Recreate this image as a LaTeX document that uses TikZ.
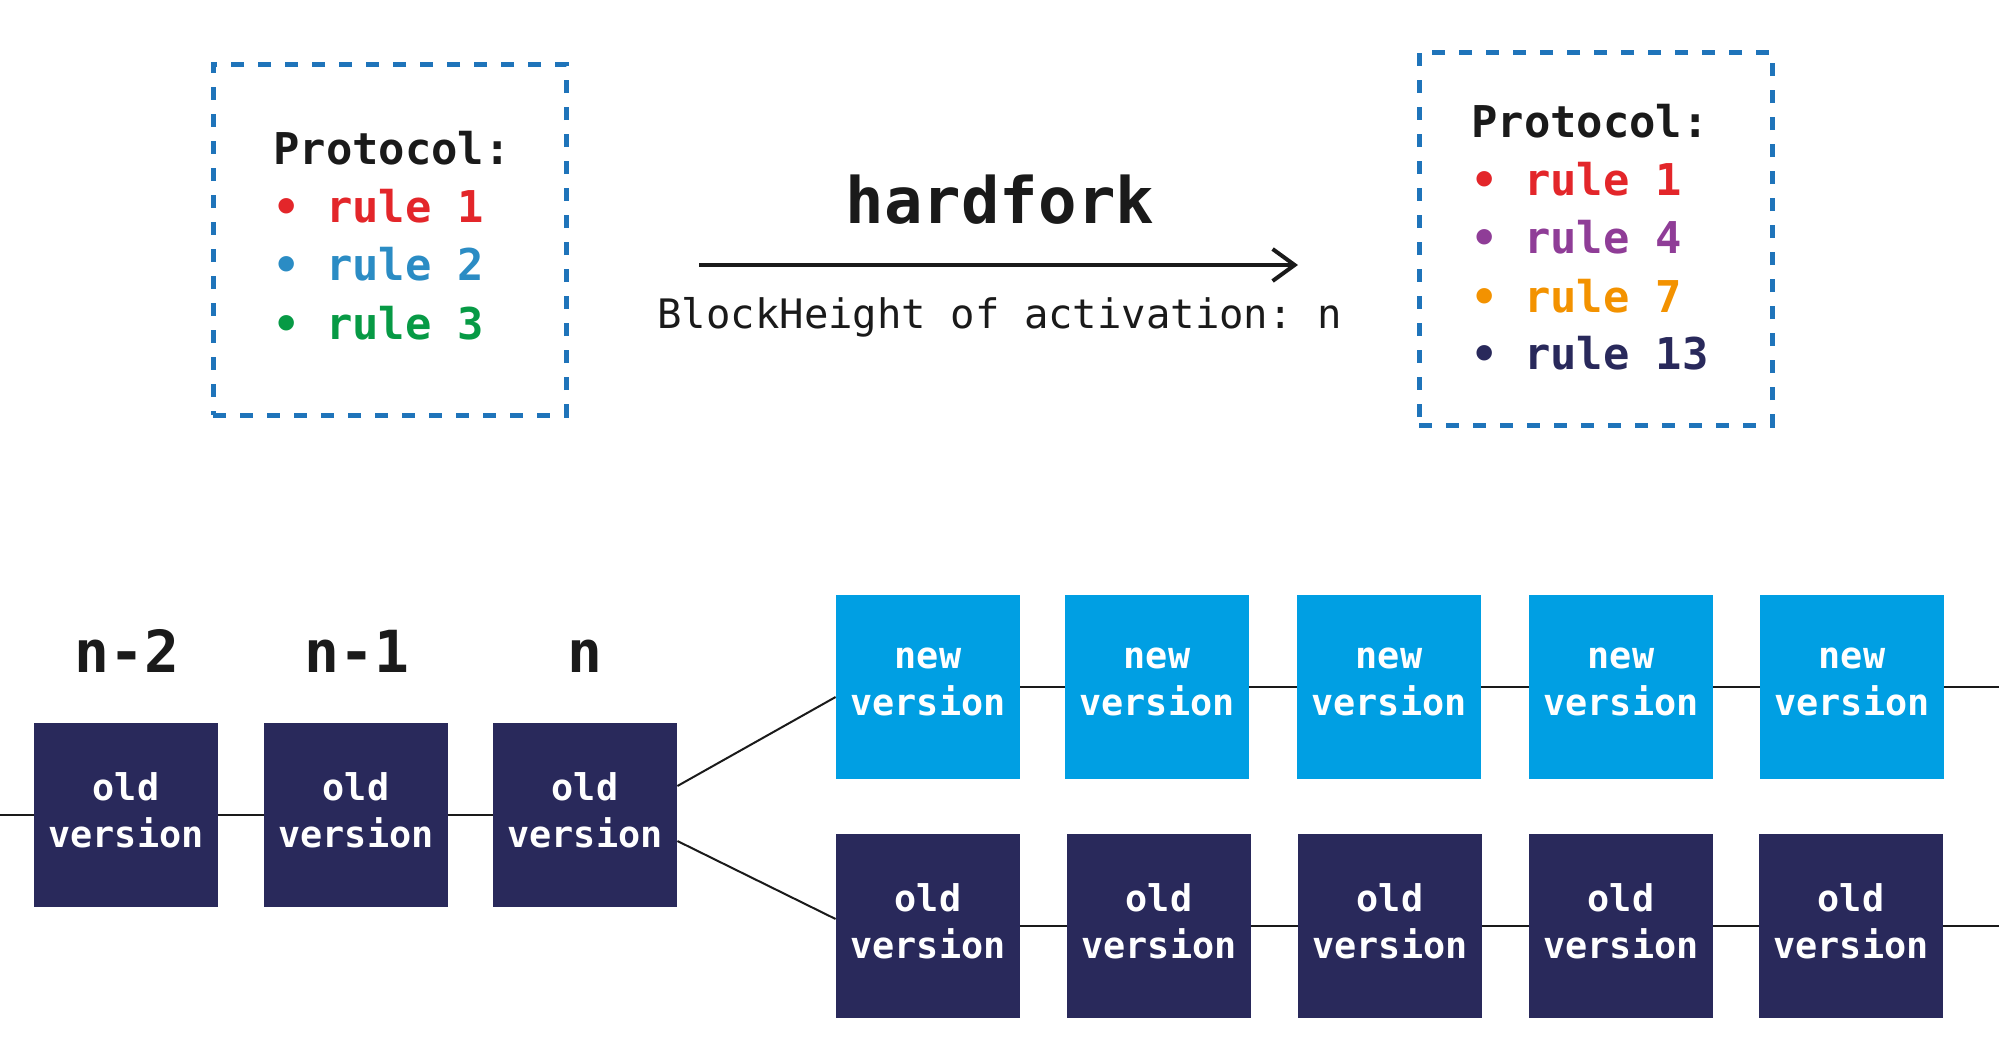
\documentclass[tikz,border=0pt]{standalone}
\usepackage{fontspec}
\setmonofont{DejaVu Sans Mono}
\usetikzlibrary{arrows.meta,calc}
\definecolor{navy}{RGB}{41,41,91}
\definecolor{lblue}{RGB}{0,159,227}
\definecolor{dblue}{RGB}{31,116,186}
\definecolor{rred}{RGB}{227,38,42}
\definecolor{rblue}{RGB}{43,140,196}
\definecolor{rgreen}{RGB}{7,154,69}
\definecolor{rpurple}{RGB}{143,61,151}
\definecolor{rorange}{RGB}{243,146,0}
\definecolor{ink}{RGB}{26,26,26}
\newcommand{\vers}[1]{#1\\version\rule[-5pt]{0pt}{5pt}}
\tikzset{
  px/.style={x=0.5pt,y=-0.5pt},
  protobox/.style={draw=dblue,line width=2.5pt,dash pattern=on 6.5pt off 7pt,inner sep=0pt,minimum width=176.5pt},
  ruletext/.style={anchor=base west,inner sep=0pt,font=\ttfamily\bfseries\fontsize{21.9}{26}\selectfont},
  block/.style={minimum width=92pt,minimum height=92pt,inner sep=0pt,align=center,text=white,
    font=\ttfamily\bfseries\fontsize{18.4}{23.5}\selectfont},
  oldblock/.style={block,fill=navy},
  newblock/.style={block,fill=lblue},
  heightlabel/.style={anchor=base,inner sep=0pt,text=ink,font=\ttfamily\bfseries\fontsize{29}{34}\selectfont},
  chain/.style={draw=ink,line width=1pt},
}
\begin{document}
\begin{tikzpicture}[px]
\useasboundingbox (0,0) rectangle (1999,1062);
% protocol boxes
\node[protobox,minimum height=175.5pt] (pl) at (389.5,239.5) {};
\node[protobox,minimum height=186.5pt] (pr) at (1595.5,238.5) {};
\node[ruletext,text=ink] (pl0) at (273,164) {Protocol:};
\node[ruletext,text=rred] (pl1) at (273,222) {• rule 1};
\node[ruletext,text=rblue] (pl2) at (273,280) {• rule 2};
\node[ruletext,text=rgreen] (pl3) at (273,339) {• rule 3};
\node[ruletext,text=ink] (pr0) at (1471,137) {Protocol:};
\node[ruletext,text=rred] (pr1) at (1471,195) {• rule 1};
\node[ruletext,text=rpurple] (pr2) at (1471,253) {• rule 4};
\node[ruletext,text=rorange] (pr3) at (1471,312) {• rule 7};
\node[ruletext,text=navy] (pr4) at (1471,369) {• rule 13};
% hardfork arrow
\coordinate (a0) at (699,265);
\coordinate (a1) at (1298,265);
\draw[ink,line width=2pt,-{Straight Barb[length=11pt,width=16pt,line width=2pt]}] (a0) -- (a1);
\node[anchor=base,inner sep=0pt,text=ink,font=\ttfamily\bfseries\fontsize{32}{38}\selectfont] (hf) at (1000,223) {hardfork};
\node[anchor=base west,inner sep=0pt,text=ink,font=\ttfamily\fontsize{20.3}{24}\selectfont] (bh) at (657,328) {BlockHeight of activation: n};
% heights
\node[heightlabel] (h2) at (127,672) {n-2};
\node[heightlabel] (h1) at (357,672) {n-1};
\node[heightlabel] (h0) at (585,672) {n};
% old chain
\node[oldblock] (o1) at (126,815) {\vers{old}};
\node[oldblock] (o2) at (356,815) {\vers{old}};
\node[oldblock] (o3) at (585,815) {\vers{old}};
% new chain
\node[newblock] (n1) at (928,687) {\vers{new}};
\node[newblock] (n2) at (1157,687) {\vers{new}};
\node[newblock] (n3) at (1389,687) {\vers{new}};
\node[newblock] (n4) at (1621,687) {\vers{new}};
\node[newblock] (n5) at (1852,687) {\vers{new}};
% old continuing chain
\node[oldblock] (q1) at (928,926) {\vers{old}};
\node[oldblock] (q2) at (1159,926) {\vers{old}};
\node[oldblock] (q3) at (1390,926) {\vers{old}};
\node[oldblock] (q4) at (1621,926) {\vers{old}};
\node[oldblock] (q5) at (1851,926) {\vers{old}};
% connectors
\coordinate (L) at (0,815);
\coordinate (R1) at (1999,687);
\coordinate (R2) at (1999,926);
\draw[chain] (L) -- (o1.west);
\draw[chain] (o1) -- (o2);
\draw[chain] (o2) -- (o3);
\draw[chain] ([yshift=14.5pt]o3.east) -- ([yshift=-5pt]n1.west);
\draw[chain] ([yshift=-13pt]o3.east) -- ([yshift=3.5pt]q1.west);
\draw[chain] (n1) -- (n2);
\draw[chain] (n2) -- (n3);
\draw[chain] (n3) -- (n4);
\draw[chain] (n4) -- (n5);
\draw[chain] (n5.east) -- (R1);
\draw[chain] (q1) -- (q2);
\draw[chain] (q2) -- (q3);
\draw[chain] (q3) -- (q4);
\draw[chain] (q4) -- (q5);
\draw[chain] (q5.east) -- (R2);
\end{tikzpicture}
\end{document}
